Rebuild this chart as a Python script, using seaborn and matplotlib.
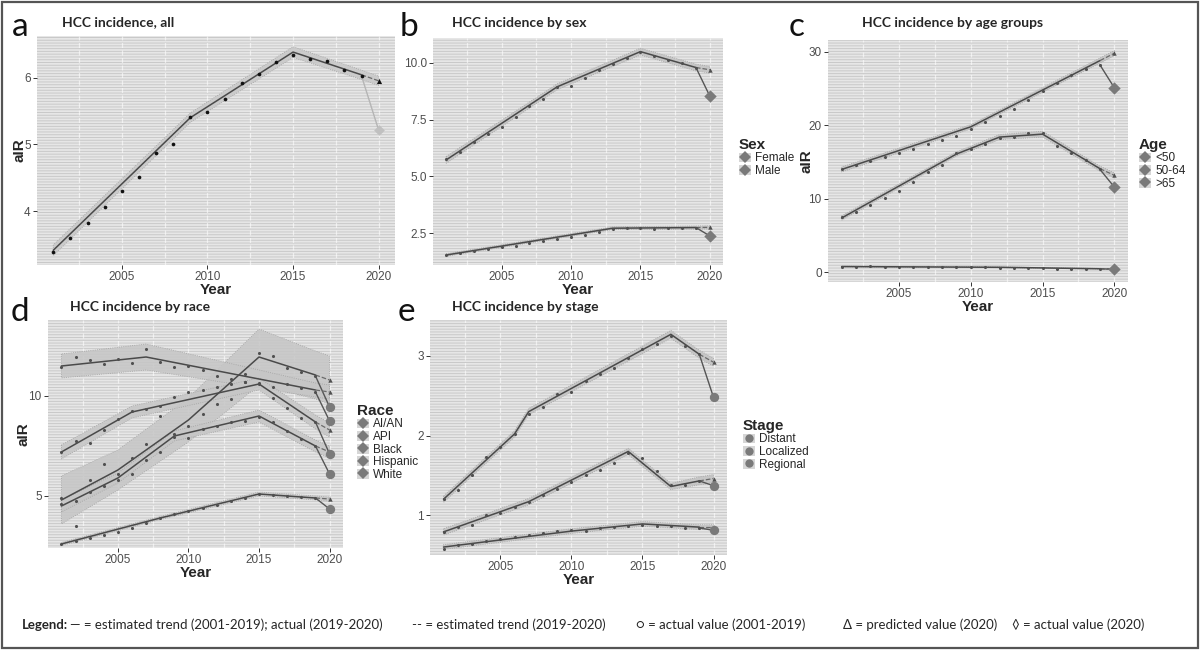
import matplotlib
matplotlib.use("Agg")
import matplotlib.pyplot as plt
import seaborn as sns
import pandas as pd
from matplotlib.lines import Line2D
from matplotlib.patches import Rectangle, Patch
from matplotlib.ticker import MultipleLocator, FixedLocator

sns.set_style("white")
plt.rcParams['font.family'] = ['Liberation Sans', 'DejaVu Sans']
plt.rcParams['hatch.linewidth'] = 0.7

# ---------------- data ----------------
years = list(range(2001, 2020))
year_2020 = 2020

# Panel a: all
a_points = [3.40, 3.61, 3.83, 4.07, 4.30, 4.52, 4.87, 5.00, 5.41, 5.48,
            5.68, 5.92, 6.05, 6.23, 6.33, 6.28, 6.25, 6.11, 6.02]
a_jp_years = [2001, 2009, 2015, 2019]
a_jp_vals = [3.42, 5.40, 6.38, 6.04]
a_jp_hw = [0.08, 0.07, 0.08, 0.07]
a_pred = 5.95
a_act = 5.21

# Panel b: sex
sex_labels = ["Female", "Male"]
b_male_points = [5.75, 6.10, 6.50, 6.85, 7.20, 7.60, 8.10, 8.40, 8.95, 9.00,
                 9.35, 9.70, 9.95, 10.20, 10.50, 10.30, 10.15, 10.00, 9.80]
b_male_jp_years = [2001, 2009, 2015, 2019]
b_male_jp_vals = [5.73, 8.95, 10.50, 9.80]
b_male_hw = [0.15, 0.13, 0.15, 0.15]
b_male_pred = 9.70
b_male_act = 8.54
b_female_points = [1.55, 1.63, 1.72, 1.80, 1.88, 1.95, 2.05, 2.15, 2.25, 2.35,
                   2.42, 2.55, 2.68, 2.72, 2.75, 2.70, 2.72, 2.74, 2.75]
b_female_jp_years = [2001, 2013, 2019]
b_female_jp_vals = [1.54, 2.72, 2.75]
b_female_hw = [0.06, 0.06, 0.07]
b_female_pred = 2.76
b_female_act = 2.38

# Panel c: age groups
age_labels = ["<50", "50-64", ">65"]
c_old_points = [14.1, 14.6, 15.2, 15.7, 16.2, 16.8, 17.4, 18.0, 18.6, 19.5,
                20.4, 21.3, 22.2, 23.4, 24.6, 25.7, 26.8, 27.6, 28.2]
c_old_jp_years = [2001, 2010, 2019]
c_old_jp_vals = [14.0, 19.8, 28.8]
c_old_hw = [0.35, 0.3, 0.35]
c_old_pred = 29.8
c_old_act = 25.1
c_mid_points = [7.5, 8.2, 9.2, 10.1, 11.1, 12.3, 13.6, 14.6, 16.2, 16.8,
                17.4, 18.3, 18.4, 19.0, 18.9, 17.2, 16.2, 15.3, 14.0]
c_mid_jp_years = [2001, 2009, 2012, 2015, 2019]
c_mid_jp_vals = [7.4, 16.1, 18.4, 18.8, 14.1]
c_mid_hw = [0.3, 0.3, 0.35, 0.4, 0.35]
c_mid_pred = 13.2
c_mid_act = 11.6
c_young_points = [0.80, 0.78, 0.82, 0.80, 0.78, 0.76, 0.75, 0.73, 0.74, 0.70,
                  0.68, 0.66, 0.60, 0.57, 0.56, 0.52, 0.50, 0.50, 0.48]
c_young_jp_years = [2001, 2012, 2019]
c_young_jp_vals = [0.80, 0.70, 0.50]
c_young_hw = [0.05, 0.05, 0.05]
c_young_pred = 0.45
c_young_act = 0.45

# Panel d: race
race_labels = ["AI/AN", "API", "Black", "Hispanic", "White"]
d_aian_points = [4.9, 3.5, 5.8, 6.6, 6.1, 6.9, 7.6, 9.0, 8.1, 8.5,
                 9.1, 9.6, 9.85, 11.1, 12.15, 12.0, 11.4, 11.2, 11.0]
d_aian_jp_years = [2001, 2005, 2010, 2015, 2019]
d_aian_jp_vals = [4.8, 6.3, 8.8, 11.95, 11.05]
d_aian_hw = [1.2, 1.0, 1.1, 1.4, 1.2]
d_aian_pred = 10.8
d_aian_act = 9.45
d_api_points = [11.45, 11.95, 11.8, 11.6, 11.85, 11.65, 12.35, 11.7, 11.45, 11.5,
                11.3, 11.0, 10.85, 10.7, 10.65, 10.45, 10.6, 10.4, 10.2]
d_api_jp_years = [2001, 2007, 2019]
d_api_jp_vals = [11.5, 11.95, 10.3]
d_api_hw = [0.6, 0.65, 0.35]
d_api_pred = 10.2
d_api_act = 8.75
d_black_points = [4.6, 4.75, 5.2, 5.5, 5.8, 6.1, 6.8, 7.2, 7.95, 7.9,
                  8.35, 8.5, 8.7, 8.75, 8.95, 8.7, 8.25, 7.85, 7.5]
d_black_jp_years = [2001, 2005, 2009, 2015, 2019]
d_black_jp_vals = [4.5, 5.9, 8.0, 9.0, 7.5]
d_black_hw = [0.3, 0.25, 0.25, 0.3, 0.3]
d_black_pred = 7.2
d_black_act = 6.1
d_hisp_points = [7.2, 7.75, 7.65, 8.3, 8.85, 9.25, 9.35, 9.5, 9.95, 10.2,
                 10.3, 10.45, 10.6, 10.7, 10.6, 9.9, 9.4, 8.9, 8.7]
d_hisp_jp_years = [2001, 2006, 2015, 2019]
d_hisp_jp_vals = [7.2, 9.2, 10.6, 8.7]
d_hisp_hw = [0.35, 0.3, 0.3, 0.35]
d_hisp_pred = 8.3
d_hisp_act = 7.1
d_white_points = [2.6, 2.75, 2.9, 3.05, 3.2, 3.4, 3.65, 3.9, 4.1, 4.25,
                  4.4, 4.55, 4.75, 4.9, 5.1, 5.05, 5.0, 4.95, 4.9]
d_white_jp_years = [2001, 2008, 2015, 2019]
d_white_jp_vals = [2.6, 3.9, 5.1, 4.9]
d_white_hw = [0.08, 0.08, 0.1, 0.1]
d_white_pred = 4.85
d_white_act = 4.35

# Panel e: stage
stage_labels = ["Distant", "Localized", "Regional"]
e_loc_points = [1.20, 1.32, 1.50, 1.73, 1.85, 2.02, 2.27, 2.36, 2.52, 2.55,
                2.68, 2.77, 2.85, 2.97, 3.08, 3.15, 3.25, 3.12, 3.02]
e_loc_jp_years = [2001, 2006, 2007, 2017, 2019]
e_loc_jp_vals = [1.20, 2.02, 2.30, 3.27, 3.02]
e_loc_hw = [0.04, 0.04, 0.04, 0.05, 0.05]
e_loc_pred = 2.92
e_loc_act = 2.48
e_reg_points = [0.79, 0.85, 0.88, 1.00, 1.03, 1.10, 1.17, 1.25, 1.33, 1.42,
                1.50, 1.57, 1.66, 1.78, 1.72, 1.55, 1.38, 1.38, 1.43]
e_reg_jp_years = [2001, 2007, 2014, 2017, 2019]
e_reg_jp_vals = [0.79, 1.17, 1.80, 1.36, 1.43]
e_reg_hw = [0.04, 0.04, 0.04, 0.04, 0.05]
e_reg_pred = 1.46
e_reg_act = 1.37
e_dist_points = [0.58, 0.62, 0.64, 0.68, 0.70, 0.73, 0.75, 0.78, 0.80, 0.81,
                 0.80, 0.84, 0.85, 0.87, 0.88, 0.87, 0.86, 0.84, 0.84]
e_dist_jp_years = [2001, 2010, 2015, 2019]
e_dist_jp_vals = [0.60, 0.80, 0.89, 0.85]
e_dist_hw = [0.03, 0.03, 0.03, 0.03]
e_dist_pred = 0.85
e_dist_act = 0.81

xticks = [2005, 2010, 2015, 2020]

# ---------------- figure ----------------
W, H = 1200, 650
fig = plt.figure(figsize=(W / 100, H / 100), dpi=100)
fig.patch.set_facecolor("white")


def px(x):
    return x / W


def py(y):
    return 1 - y / H


def make_ax(l, r, t, b):
    ax = fig.add_axes([px(l), py(b), px(r - l), (b - t) / H])
    ax.set_facecolor("#e4e4e4")
    ax.add_patch(Rectangle((0, 0), 1, 1, transform=ax.transAxes,
                           facecolor="#e6e6e6", edgecolor="#c9c9c9",
                           hatch="------", lw=0, zorder=0))
    for s in ax.spines.values():
        s.set_visible(False)
    ax.set_xlim(2000.05, 2020.95)
    ax.xaxis.set_major_locator(FixedLocator(xticks))
    ax.xaxis.set_minor_locator(MultipleLocator(2.5))
    ax.set_axisbelow(True)
    ax.grid(axis="x", which="both", color="white", lw=0.9, alpha=0.6,
            ls=(0, (4, 2)))
    ax.grid(axis="y", visible=False)
    ax.tick_params(axis="both", which="major", length=3, width=0.7,
                   color="#333333", labelcolor="#4d4d4d", labelsize=8.5, pad=1.5,
                   left=True, bottom=True)
    ax.tick_params(axis="x", which="minor", length=0)
    ax.set_xlabel("Year", fontsize=11, fontweight="bold", labelpad=0)
    return ax


def draw_series(ax, pts, jy, jv, hw, pred, act, pt_color="#505050", pt_size=5,
                act_marker="D", act_color="#7a7a7a", act_size=40,
                act_line="#555555", band="#c2c2c2"):
    lo = [v - h for v, h in zip(jv, hw)] + [pred - hw[-1]]
    hi = [v + h for v, h in zip(jv, hw)] + [pred + hw[-1]]
    ax.fill_between(jy + [year_2020], lo, hi, facecolor=band, edgecolor="#9a9a9a",
                    linewidth=0.6, linestyle=":", alpha=0.85, zorder=2)
    sns.lineplot(x=jy, y=jv, ax=ax, color="#4a4a4a", lw=1.1, zorder=4)
    sns.lineplot(x=[jy[-1], year_2020], y=[jv[-1], pred], ax=ax, color="#6a6a6a",
                 lw=0.9, linestyle="--", zorder=4)
    sns.lineplot(x=[years[-1], year_2020], y=[pts[-1], act], ax=ax,
                 color=act_line, lw=1.0, zorder=4)
    sns.scatterplot(x=years, y=pts, ax=ax, color=pt_color, s=pt_size,
                    linewidth=0, zorder=5)
    sns.scatterplot(x=[year_2020], y=[pred], ax=ax, color=pt_color, marker="^",
                    s=pt_size * 2, linewidth=0, zorder=5)
    sns.scatterplot(x=[year_2020], y=[act], ax=ax, color=act_color,
                    marker=act_marker, s=act_size, linewidth=0, zorder=6)


def legend(ax, title, labels, x, y, marker="D"):
    handles = [(Patch(facecolor="#d6d6d6", edgecolor="none"),
                Line2D([], [], ls="", marker=marker, color="#7a7a7a",
                       markersize=6, markeredgewidth=0)) for _ in labels]
    lg = ax.legend(handles, labels, title=title, loc="upper left",
                   bbox_to_anchor=(px(x), py(y)), bbox_transform=fig.transFigure,
                   frameon=False, fontsize=8.5, handlelength=1.0, handleheight=0.9,
                   handletextpad=0.4, labelspacing=0.05, borderpad=0,
                   alignment="left",
                   title_fontproperties={"weight": "bold", "size": 11})
    return lg


title_font = dict(family=["Lato", "DejaVu Sans"], fontweight="bold", fontsize=10)
letter_font = dict(family=["Lato", "DejaVu Sans"], fontweight="normal",
                   fontsize=24, color="#111111")

# ---- a ----
ax_a = make_ax(37, 395, 36, 265)
draw_series(ax_a, a_points, a_jp_years, a_jp_vals, a_jp_hw, a_pred, a_act,
            pt_color="#111111", pt_size=7, act_marker="D", act_color="#c0c0c0",
            act_size=30, act_line="#b5b5b5", band="#c8c8c8")
ax_a.set_ylim(3.2, 6.62)
ax_a.yaxis.set_major_locator(FixedLocator([4, 5, 6]))
ax_a.set_ylabel("aIR", fontsize=11, fontweight="bold")
ax_a.yaxis.set_label_coords((26 - 37) / 358, 0.5)
fig.text(px(62), py(22), "HCC incidence, all", va="center", **title_font)
fig.text(px(12), py(27), "a", va="center", **letter_font)

# ---- b ----
ax_b = make_ax(433, 723, 38, 265)
draw_series(ax_b, b_female_points, b_female_jp_years, b_female_jp_vals, b_female_hw,
            b_female_pred, b_female_act)
draw_series(ax_b, b_male_points, b_male_jp_years, b_male_jp_vals, b_male_hw,
            b_male_pred, b_male_act)
ax_b.set_ylim(1.1, 11.1)
ax_b.yaxis.set_major_locator(FixedLocator([2.5, 5.0, 7.5, 10.0]))
ax_b.set_yticklabels(["2.5", "5.0", "7.5", "10.0"])
ax_b.set_ylabel("")
legend(ax_b, "Sex", sex_labels, 733, 132)
fig.text(px(452), py(23), "HCC incidence by sex", va="center", **title_font)
fig.text(px(400), py(27), "b", va="center", **letter_font)

# ---- c ----
ax_c = make_ax(828, 1128, 40, 282)
draw_series(ax_c, c_young_points, c_young_jp_years, c_young_jp_vals, c_young_hw,
            c_young_pred, c_young_act)
draw_series(ax_c, c_mid_points, c_mid_jp_years, c_mid_jp_vals, c_mid_hw,
            c_mid_pred, c_mid_act)
draw_series(ax_c, c_old_points, c_old_jp_years, c_old_jp_vals, c_old_hw,
            c_old_pred, c_old_act)
ax_c.set_ylim(-1.3, 31.6)
ax_c.yaxis.set_major_locator(FixedLocator([0, 10, 20, 30]))
ax_c.set_ylabel("aIR", fontsize=11, fontweight="bold")
ax_c.yaxis.set_label_coords((814 - 828) / 300, 0.5)
legend(ax_c, "Age", age_labels, 1133, 132)
fig.text(px(862), py(23), "HCC incidence by age groups", va="center", **title_font)
fig.text(px(789), py(27), "c", va="center", **letter_font)

# ---- d ----
ax_d = make_ax(48, 343, 320, 548)
for pts, jy, jv, hw, pr, ac in [
        (d_aian_points, d_aian_jp_years, d_aian_jp_vals, d_aian_hw, d_aian_pred, d_aian_act),
        (d_api_points, d_api_jp_years, d_api_jp_vals, d_api_hw, d_api_pred, d_api_act),
        (d_black_points, d_black_jp_years, d_black_jp_vals, d_black_hw, d_black_pred, d_black_act),
        (d_hisp_points, d_hisp_jp_years, d_hisp_jp_vals, d_hisp_hw, d_hisp_pred, d_hisp_act),
        (d_white_points, d_white_jp_years, d_white_jp_vals, d_white_hw, d_white_pred, d_white_act)]:
    draw_series(ax_d, pts, jy, jv, hw, pr, ac, act_marker="o", act_size=45,
                band="#c6c6c6")
ax_d.set_ylim(2.4, 13.8)
ax_d.yaxis.set_major_locator(FixedLocator([5, 10]))
ax_d.set_ylabel("aIR", fontsize=11, fontweight="bold")
ax_d.yaxis.set_label_coords((31 - 48) / 295, 0.5)
legend(ax_d, "Race", race_labels, 351, 398)
fig.text(px(70), py(307), "HCC incidence by race", va="center", **title_font)
fig.text(px(11), py(312), "d", va="center", **letter_font)

# ---- e ----
ax_e = make_ax(430, 727, 320, 555)
for pts, jy, jv, hw, pr, ac in [
        (e_dist_points, e_dist_jp_years, e_dist_jp_vals, e_dist_hw, e_dist_pred, e_dist_act),
        (e_reg_points, e_reg_jp_years, e_reg_jp_vals, e_reg_hw, e_reg_pred, e_reg_act),
        (e_loc_points, e_loc_jp_years, e_loc_jp_vals, e_loc_hw, e_loc_pred, e_loc_act)]:
    draw_series(ax_e, pts, jy, jv, hw, pr, ac, act_marker="o", act_size=45)
ax_e.set_ylim(0.5, 3.45)
ax_e.yaxis.set_major_locator(FixedLocator([1, 2, 3]))
ax_e.set_ylabel("")
legend(ax_e, "Stage", stage_labels, 737, 413, marker="o")
fig.text(px(452), py(307), "HCC incidence by stage", va="center", **title_font)
fig.text(px(398), py(312), "e", va="center", **letter_font)

# ---- bottom legend ----
note_font = dict(family=["Lato", "DejaVu Sans"], fontsize=9.5, va="center")
fig.text(px(22), py(625), "Legend:", fontweight="bold", **note_font)
fig.text(px(70), py(625), "\u2014 = estimated trend (2001-2019); actual (2019-2020)", **note_font)
fig.text(px(412), py(625), "-- = estimated trend (2019-2020)", **note_font)
fig.text(px(636), py(625), "\u25cb = actual value (2001-2019)", **note_font)
fig.text(px(843), py(625), "\u0394 = predicted value (2020)", **note_font)
fig.text(px(1012), py(625), "\u25ca = actual value (2020)", **note_font)

# ---- frame ----
fig.patches.append(Rectangle((px(2), py(648)), px(1196), 646 / H,
                             transform=fig.transFigure, fill=False,
                             edgecolor="#555555", lw=1.6))

fig.savefig("out.png", dpi=100)
